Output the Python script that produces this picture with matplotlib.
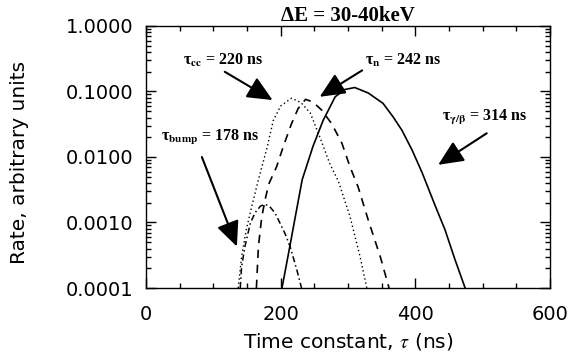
import matplotlib
matplotlib.use("Agg")
import matplotlib.pyplot as plt
from matplotlib.ticker import FixedLocator, MultipleLocator, LogLocator, FuncFormatter, NullFormatter

# curves (time constant in ns, rate in arbitrary units)
tau_gb = [202, 212, 222, 232, 248, 263, 281, 295, 310, 330, 352, 367, 380, 395, 410, 429, 444, 459, 474]
rate_gb = [1.0e-4, 3.5e-4, 1.26e-3, 4.5e-3, 0.0145, 0.036, 0.083, 0.107, 0.115, 0.095, 0.066,
           0.041, 0.0257, 0.0129, 0.0058, 0.00186, 0.00078, 0.00027, 1.0e-4]

tau_n = [164, 167, 172, 178, 183, 194, 204, 216, 226, 237, 248, 261, 276, 291, 303, 315, 330, 348, 361]
rate_n = [1.0e-4, 4.3e-4, 1.23e-3, 2.5e-3, 4.0e-3, 7.1e-3, 0.0145, 0.032, 0.055, 0.076, 0.069,
          0.052, 0.032, 0.0162, 0.0071, 0.0035, 0.0011, 0.0003, 1.0e-4]

tau_cc = [137, 142, 149, 157, 167, 180, 189, 200, 216, 230, 244, 258, 273, 286, 303, 318, 328]
rate_cc = [1.0e-4, 3.0e-4, 7.8e-4, 1.74e-3, 4.5e-3, 0.0141, 0.036, 0.060, 0.079, 0.068, 0.047,
           0.0204, 0.0079, 0.0042, 0.00123, 0.0003, 1.0e-4]

tau_bump = [140, 142, 147, 155, 162, 170, 177, 184, 192, 199, 207, 214, 224, 231]
rate_bump = [1.0e-4, 2.1e-4, 4.3e-4, 9.8e-4, 1.41e-3, 1.78e-3, 1.9e-3, 1.74e-3, 1.38e-3, 9.8e-4,
             6.6e-4, 4.3e-4, 1.9e-4, 1.0e-4]

x_ticks = [0, 200, 400, 600]
y_ticks = [1e-4, 1e-3, 1e-2, 1e-1, 1.0]

# label text, text position, arrow tail, arrow tip (data coords)
notes = [
    (r"τ$_{\mathbf{cc}}$ = 220 ns", (114, 0.30), (117, 0.20), (188, 0.074)),
    (r"τ$_{\mathbf{n}}$ = 242 ns", (382, 0.30), (321, 0.21), (258, 0.083)),
    (r"τ$_{\mathbf{\gamma/\beta}}$ = 314 ns", (503, 0.040), (506, 0.023), (434, 0.0076)),
    (r"τ$_{\mathbf{bump}}$ = 178 ns", (95, 0.0195), (83, 0.010), (135, 0.00043)),
]

plt.rcParams["mathtext.fontset"] = "stix"

fig = plt.figure(figsize=(5.72, 3.6), dpi=100)
ax = fig.add_axes([0.2552, 0.2, 0.7063, 0.7278])

ax.plot(tau_gb, rate_gb, color="black", lw=1.2, ls="-")
ax.plot(tau_n, rate_n, color="black", lw=1.2, ls=(0, (5, 4)))
ax.plot(tau_cc, rate_cc, color="black", lw=1.0, ls=(0, (1, 2)))
ax.plot(tau_bump, rate_bump, color="black", lw=1.1, ls=(0, (4, 2, 1, 2)))

ax.set_yscale("log")
ax.set_xlim(0, 600)
ax.set_ylim(1e-4, 1.0)

ax.xaxis.set_major_locator(FixedLocator(x_ticks))
ax.xaxis.set_minor_locator(MultipleLocator(50))
ax.yaxis.set_major_locator(FixedLocator(y_ticks))
ax.yaxis.set_minor_locator(LogLocator(base=10, subs=range(2, 10)))
ax.yaxis.set_major_formatter(FuncFormatter(lambda v, p: f"{v:.4f}"))
ax.yaxis.set_minor_formatter(NullFormatter())

ax.tick_params(which="both", direction="in", top=True, right=True, width=1.0)
ax.tick_params(which="major", length=7)
ax.tick_params(which="minor", length=3.5)
ax.tick_params(axis="y", labelsize=14, pad=9)
ax.tick_params(axis="x", labelsize=14, pad=12)
for s in ax.spines.values():
    s.set_linewidth(1.0)

ax.set_xlabel(r"Time constant, $\tau$ (ns)", fontsize=14.5)
ax.set_ylabel("Rate, arbitrary units", fontsize=14.5)
ax.xaxis.set_label_coords(0.5, -0.165)
ax.yaxis.set_label_coords(-0.29, 0.48)

ax.set_title("ΔE = 30-40keV", fontsize=15, fontweight="bold", family="Liberation Serif", pad=3)

for label, txt_xy, tail, tip in notes:
    ax.text(txt_xy[0], txt_xy[1], label, ha="center", va="center", fontsize=11.5,
            fontweight="bold", family="Liberation Serif")
    ax.annotate("", xy=tip, xytext=tail,
                arrowprops=dict(arrowstyle="-|>,head_length=1.1,head_width=0.5",
                                mutation_scale=14, color="black", lw=1.5,
                                shrinkA=0, shrinkB=0))

fig.savefig("out.png", dpi=100)
